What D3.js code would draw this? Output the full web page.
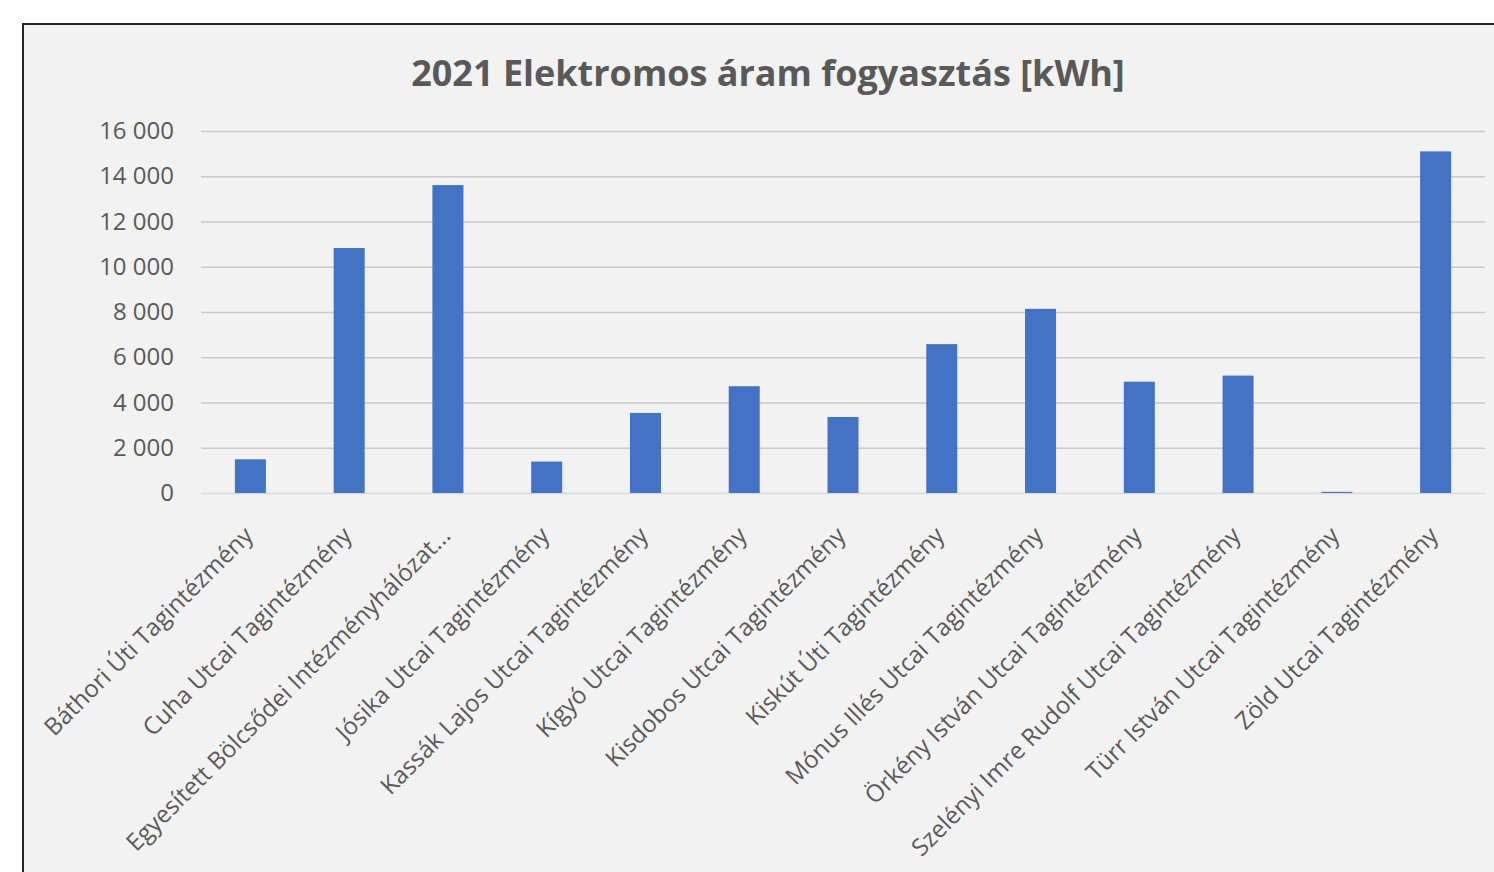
<!DOCTYPE html>
<meta charset="utf-8">
<head>
<style>
  body { margin: 0; background: #fff; }
  .tick text { fill: #595959; font-family: "Open Sans", sans-serif; }
</style>
</head>
<body>
<script src="https://cdn.jsdelivr.net/npm/d3@7"></script>
<script>
// chart data
var categories = [
  "Báthori Úti Tagintézmény",
  "Cuha Utcai Tagintézmény",
  "Egyesített Bölcsődei Intézményhálózat...",
  "Jósika Utcai Tagintézmény",
  "Kassák Lajos Utcai Tagintézmény",
  "Kígyó Utcai Tagintézmény",
  "Kisdobos Utcai Tagintézmény",
  "Kiskút Úti Tagintézmény",
  "Mónus Illés Utcai Tagintézmény",
  "Örkény István Utcai Tagintézmény",
  "Szelényi Imre Rudolf Utcai Tagintézmény",
  "Türr István Utcai Tagintézmény",
  "Zöld Utcai Tagintézmény"
];
var values = [1490, 10830, 13610, 1390, 3540, 4720, 3360, 6580, 8140, 4920, 5190, 50, 15100];
var yTicks = [0, 2000, 4000, 6000, 8000, 10000, 12000, 14000, 16000];
var title = "2021 Elektromos áram fogyasztás [kWh]";

var W = 1494, H = 872;
var plot = { left: 201, right: 1485, top: 131, bottom: 493 };

var svg = d3.select("body").append("svg")
    .attr("width", W)
    .attr("height", H);

// chart area frame
svg.append("rect")
    .attr("x", 23).attr("y", 24)
    .attr("width", W + 20).attr("height", H + 20)
    .attr("fill", "#f2f2f2")
    .attr("stroke", "#262626")
    .attr("stroke-width", 2);

var x = d3.scaleBand()
    .domain(categories)
    .range([plot.left, plot.right])
    .paddingInner(0.686)
    .paddingOuter(0.343);

var y = d3.scaleLinear()
    .domain([0, 16000])
    .range([plot.bottom, plot.top]);

var fmt = function (d) { return d3.format(",")(d).replace(/,/g, " "); };

// gridlines + y labels
var yAxis = d3.axisLeft(y)
    .tickValues(yTicks)
    .tickSize(-(plot.right - plot.left))
    .tickPadding(27)
    .tickFormat(fmt);

var gy = svg.append("g")
    .attr("transform", "translate(" + plot.left + ",0)")
    .call(yAxis);
gy.select(".domain").remove();
gy.selectAll(".tick line")
    .attr("stroke", function (d) { return d === 0 ? "#d9d9d9" : "#c9c9c9"; })
    .attr("stroke-width", 1.5);
gy.selectAll(".tick text")
    .style("font-size", "24px");

// bars
svg.selectAll(".bar")
    .data(values)
    .enter().append("rect")
    .attr("class", "bar")
    .attr("x", function (d, i) { return x(categories[i]); })
    .attr("width", x.bandwidth())
    .attr("y", function (d) { return y(d); })
    .attr("height", function (d) { return plot.bottom - y(d); })
    .attr("fill", "#4472c4");

// x labels, rotated
var xAxis = d3.axisBottom(x).tickSize(0).tickPadding(0);
var gx = svg.append("g")
    .attr("transform", "translate(0," + plot.bottom + ")")
    .call(xAxis);
gx.select(".domain").remove();
gx.selectAll(".tick text")
    .style("font-size", "24px")
    .attr("text-anchor", "end")
    .attr("dy", null)
    .attr("transform", "translate(4,44) rotate(-45)");

// title
svg.append("text")
    .attr("x", 768)
    .attr("y", 86)
    .attr("text-anchor", "middle")
    .style("font-family", "'Open Sans', sans-serif")
    .style("font-weight", "bold")
    .style("font-size", "36px")
    .attr("fill", "#595959")
    .text(title);
</script>
</body>
